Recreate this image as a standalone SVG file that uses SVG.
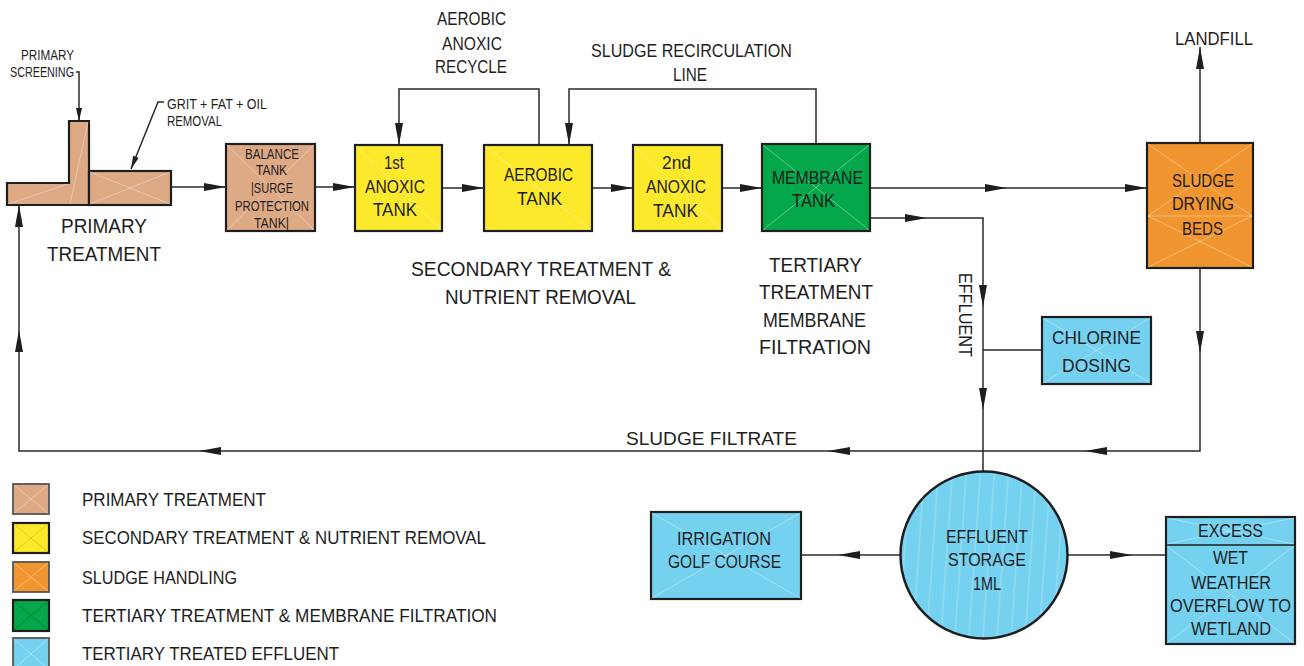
<svg xmlns="http://www.w3.org/2000/svg" xmlns:xlink="http://www.w3.org/1999/xlink" width="1304" height="666" viewBox="0 0 1304 666">
<style>
.box{stroke:#1e1e1e;stroke-width:2.2}
.tan{fill:#DEA985}.yel{fill:#FDE92C}.org{fill:#F0952F}.grn{fill:#04A84B}.blu{fill:#74D1EF}
.x{stroke:#ffffff;stroke-opacity:0.45;stroke-width:0.8;fill:none}
.ln{stroke:#2a2a2a;stroke-width:1.5;fill:none}
text{font-family:"Liberation Sans",Arial,sans-serif;fill:#1e1e1e;text-anchor:middle}
.s{font-size:14px}.m{font-size:18px}.l{font-size:21px}
.lg{text-anchor:start}
</style>
<defs>
<path id="ah" d="M0,0 L-22,-4 L-22,4 Z" fill="#1e1e1e"/>
<path id="ahs" d="M0,0 L-13,-3 L-13,3 Z" fill="#1e1e1e"/>
<pattern id="stripes" width="14" height="20" patternUnits="userSpaceOnUse" patternTransform="rotate(4)">
<rect width="14" height="20" fill="#74D1EF"/>
<line x1="3" y1="0" x2="3" y2="20" stroke="#ffffff" stroke-opacity="0.35" stroke-width="1"/>
</pattern>
</defs>
<rect width="1304" height="666" fill="#ffffff"/>

<!-- connectors -->
<g id="connectors">
<path class="ln" d="M76,72 H79 V121"/>
<use href="#ahs" transform="translate(79,121) rotate(90)"/>
<path class="ln" d="M164,102 H158 L131,169"/>
<use href="#ahs" transform="translate(131,169) rotate(112)"/>
<path class="ln" d="M171,187 H226"/>
<use href="#ah" transform="translate(226,187)"/>
<path class="ln" d="M315,187 H355"/>
<use href="#ah" transform="translate(355,187)"/>
<path class="ln" d="M442,188 H484"/>
<use href="#ah" transform="translate(484,188)"/>
<path class="ln" d="M583,188 H633"/>
<use href="#ah" transform="translate(633,188)"/>
<path class="ln" d="M722,188 H762"/>
<use href="#ah" transform="translate(762,188)"/>
<path class="ln" d="M539,145 V89 H399 V145"/>
<use href="#ah" transform="translate(399,145) rotate(90)"/>
<path class="ln" d="M816,145 V89 H569 V145"/>
<use href="#ah" transform="translate(569,145) rotate(90)"/>
<path class="ln" d="M870,188 H1147"/>
<use href="#ah" transform="translate(1007,188)"/>
<use href="#ah" transform="translate(1147,188)"/>
<path class="ln" d="M870,218 H983 V472"/>
<use href="#ah" transform="translate(927,218)"/>
<use href="#ah" transform="translate(983,307) rotate(90)"/>
<use href="#ah" transform="translate(983,410) rotate(90)"/>
<path class="ln" d="M983,350 H1042"/>
<path class="ln" d="M1200,143 V47"/>
<use href="#ah" transform="translate(1200,47) rotate(-90)"/>
<path class="ln" d="M1200,268 V451 H19 V205"/>
<use href="#ah" transform="translate(1200,353) rotate(90)"/>
<use href="#ah" transform="translate(1085,451) rotate(180)"/>
<use href="#ah" transform="translate(828,451) rotate(180)"/>
<use href="#ah" transform="translate(199,451) rotate(180)"/>
<use href="#ah" transform="translate(19,330) rotate(-90)"/>
<use href="#ah" transform="translate(19,205) rotate(-90)"/>
<path class="ln" d="M900,555 H801"/>
<use href="#ah" transform="translate(838,555) rotate(180)"/>
<path class="ln" d="M1068,555 H1166"/>
<use href="#ah" transform="translate(1132,555)"/>
</g>

<!-- nodes -->
<g id="primary-treatment">
<path class="box tan" d="M7,183 H69 V121 H89 V205 H7 Z"/>
<rect class="box tan" x="89" y="171" width="82" height="34"/>
<path class="x" d="M8,204 L68,184 M70,204 L88,122 M90,172 L170,204 M90,204 L170,172"/>
</g>
<g id="balance-tank">
<rect class="box tan" x="226" y="144" width="89" height="87"/>
<path class="x" d="M227,145 L314,230 M314,145 L227,230"/>
<text class="s" x="272" y="159" textLength="54" lengthAdjust="spacingAndGlyphs">BALANCE</text>
<text class="s" x="271.5" y="175" textLength="31" lengthAdjust="spacingAndGlyphs">TANK</text>
<text class="s" x="272" y="193" textLength="42" lengthAdjust="spacingAndGlyphs">|SURGE</text>
<text class="s" x="272" y="211" textLength="74" lengthAdjust="spacingAndGlyphs">PROTECTION</text>
<text class="s" x="271.5" y="228" textLength="35" lengthAdjust="spacingAndGlyphs">TANK|</text>
</g>
<g id="anoxic-1">
<rect class="box yel" x="355" y="145" width="87" height="86"/>
<path class="x" d="M356,146 L441,230"/>
<text class="m" x="394" y="168.5" textLength="20" lengthAdjust="spacingAndGlyphs">1st</text>
<text class="m" x="395" y="192.5" textLength="60" lengthAdjust="spacingAndGlyphs">ANOXIC</text>
<text class="m" x="395" y="215.5" textLength="44" lengthAdjust="spacingAndGlyphs">TANK</text>
</g>
<g id="aerobic-tank">
<rect class="box yel" x="484" y="145" width="108" height="86"/>
<path class="x" d="M485,146 L591,230"/>
<text class="m" x="538.5" y="180.5" textLength="69" lengthAdjust="spacingAndGlyphs">AEROBIC</text>
<text class="m" x="539.5" y="204.5" textLength="45" lengthAdjust="spacingAndGlyphs">TANK</text>
</g>
<g id="anoxic-2">
<rect class="box yel" x="633" y="145" width="89" height="86"/>
<path class="x" d="M634,146 L721,230"/>
<text class="m" x="676.5" y="168.5" textLength="29" lengthAdjust="spacingAndGlyphs">2nd</text>
<text class="m" x="676" y="192.5" textLength="60" lengthAdjust="spacingAndGlyphs">ANOXIC</text>
<text class="m" x="675.5" y="216.5" textLength="45" lengthAdjust="spacingAndGlyphs">TANK</text>
</g>
<g id="membrane-tank">
<rect class="box grn" x="762" y="144" width="108" height="87"/>
<path class="x" d="M763,145 L869,230 M869,145 L763,230"/>
<text class="m" x="817.5" y="183.5" textLength="91" lengthAdjust="spacingAndGlyphs">MEMBRANE</text>
<text class="m" x="813.5" y="206.5" textLength="43" lengthAdjust="spacingAndGlyphs">TANK</text>
</g>
<g id="sludge-drying-beds">
<rect class="box org" x="1147" y="143" width="106" height="125"/>
<path class="x" d="M1148,144 L1252,216 M1252,144 L1148,216 M1148,216 L1252,267 M1252,216 L1148,267 M1148,216 H1252"/>
<text class="m" x="1203" y="186.5" textLength="62" lengthAdjust="spacingAndGlyphs">SLUDGE</text>
<text class="m" x="1203" y="209.5" textLength="62" lengthAdjust="spacingAndGlyphs">DRYING</text>
<text class="m" x="1202.5" y="234.5" textLength="41" lengthAdjust="spacingAndGlyphs">BEDS</text>
</g>
<g id="chlorine-dosing">
<rect class="box blu" x="1042" y="317" width="109" height="67"/>
<path class="x" d="M1043,318 L1150,383 M1150,318 L1043,383"/>
<text class="m" x="1096.5" y="343.5" textLength="89" lengthAdjust="spacingAndGlyphs">CHLORINE</text>
<text class="m" x="1096.5" y="371.5" textLength="69" lengthAdjust="spacingAndGlyphs">DOSING</text>
</g>
<g id="effluent-storage">
<circle cx="984" cy="555" r="83.5" fill="url(#stripes)" stroke="#1e1e1e" stroke-width="2.5"/>
<text class="m" x="987" y="542.5" textLength="82" lengthAdjust="spacingAndGlyphs">EFFLUENT</text>
<text class="m" x="987" y="565.5" textLength="78" lengthAdjust="spacingAndGlyphs">STORAGE</text>
<text class="m" x="987" y="589.5" textLength="28" lengthAdjust="spacingAndGlyphs">1ML</text>
</g>
<g id="irrigation-golf-course">
<rect class="box blu" x="651" y="512" width="150" height="87"/>
<path class="x" d="M652,513 L800,598 M800,513 L652,598"/>
<text class="m" x="724" y="544.5" textLength="94" lengthAdjust="spacingAndGlyphs">IRRIGATION</text>
<text class="m" x="724.5" y="567.5" textLength="113" lengthAdjust="spacingAndGlyphs">GOLF COURSE</text>
</g>
<g id="excess-wet-weather">
<rect class="box blu" x="1166" y="517" width="129" height="127"/>
<line x1="1166" y1="545" x2="1295" y2="545" stroke="#1e1e1e" stroke-width="1.5"/>
<path class="x" d="M1167,518 L1294,544 M1294,518 L1167,544 M1167,546 L1294,643 M1294,546 L1167,643"/>
<text class="m" x="1230.5" y="536.5" textLength="65" lengthAdjust="spacingAndGlyphs">EXCESS</text>
<text class="m" x="1230.5" y="563.5" textLength="35" lengthAdjust="spacingAndGlyphs">WET</text>
<text class="m" x="1231" y="588.5" textLength="80" lengthAdjust="spacingAndGlyphs">WEATHER</text>
<text class="m" x="1230.5" y="611.5" textLength="121" lengthAdjust="spacingAndGlyphs">OVERFLOW TO</text>
<text class="m" x="1231" y="634.5" textLength="80" lengthAdjust="spacingAndGlyphs">WETLAND</text>
</g>

<!-- labels -->
<g id="labels">
<text class="s" x="47.5" y="60" textLength="53" lengthAdjust="spacingAndGlyphs">PRIMARY</text>
<text class="s" x="42" y="77" textLength="64" lengthAdjust="spacingAndGlyphs">SCREENING</text>
<text class="s lg" x="167" y="109" textLength="100" lengthAdjust="spacingAndGlyphs">GRIT + FAT + OIL</text>
<text class="s lg" x="167" y="125.5" textLength="55" lengthAdjust="spacingAndGlyphs">REMOVAL</text>
<text class="l" x="104" y="232.6" textLength="86" lengthAdjust="spacingAndGlyphs">PRIMARY</text>
<text class="l" x="104" y="260.6" textLength="114" lengthAdjust="spacingAndGlyphs">TREATMENT</text>
<text class="m" x="471.5" y="24.5" textLength="69" lengthAdjust="spacingAndGlyphs">AEROBIC</text>
<text class="m" x="472" y="49.5" textLength="60" lengthAdjust="spacingAndGlyphs">ANOXIC</text>
<text class="m" x="471" y="72.5" textLength="72" lengthAdjust="spacingAndGlyphs">RECYCLE</text>
<text class="m" x="691.5" y="56.5" textLength="201" lengthAdjust="spacingAndGlyphs">SLUDGE RECIRCULATION</text>
<text class="m" x="690" y="80.5" textLength="34" lengthAdjust="spacingAndGlyphs">LINE</text>
<text class="l" x="541" y="275.6" textLength="260" lengthAdjust="spacingAndGlyphs">SECONDARY TREATMENT &amp;</text>
<text class="l" x="540.5" y="303.6" textLength="191" lengthAdjust="spacingAndGlyphs">NUTRIENT REMOVAL</text>
<text class="l" x="815.5" y="271.6" textLength="93" lengthAdjust="spacingAndGlyphs">TERTIARY</text>
<text class="l" x="816" y="298.6" textLength="114" lengthAdjust="spacingAndGlyphs">TREATMENT</text>
<text class="l" x="814.5" y="326.6" textLength="103" lengthAdjust="spacingAndGlyphs">MEMBRANE</text>
<text class="l" x="815" y="353.6" textLength="112" lengthAdjust="spacingAndGlyphs">FILTRATION</text>
<text class="m" x="1214" y="44.5" textLength="78" lengthAdjust="spacingAndGlyphs">LANDFILL</text>
<text style="font-size:19px" x="711.5" y="444.8" textLength="171" lengthAdjust="spacingAndGlyphs">SLUDGE FILTRATE</text>
<text class="m" transform="translate(965,315) rotate(90)" x="0" y="6.5" textLength="84" lengthAdjust="spacingAndGlyphs">EFFLUENT</text>
</g>

<!-- legend -->
<g id="legend">
<rect class="box tan" x="13" y="484" width="36" height="30" style="stroke:#555;stroke-width:1.8"/>
<path class="x" d="M14,485 L48,513 M48,485 L14,513"/>
<rect class="box yel" x="13" y="523" width="36" height="30"/>
<path class="x" d="M14,524 L48,552 M48,524 L14,552" style="stroke:#c8b800;stroke-opacity:0.7"/>
<rect class="box org" x="13" y="562" width="36" height="30" style="stroke:#555;stroke-width:1.8"/>
<path class="x" d="M14,563 L48,591 M48,563 L14,591"/>
<rect class="box grn" x="13" y="600" width="36" height="31"/>
<path class="x" d="M14,601 L48,630 M48,601 L14,630" style="stroke:#006b2c;stroke-opacity:0.8"/>
<rect class="box blu" x="13" y="638" width="36" height="32" style="stroke:#555;stroke-width:1.8"/>
<path class="x" d="M14,639 L48,669 M48,639 L14,669"/>
<text class="m lg" x="82" y="506" textLength="184" lengthAdjust="spacingAndGlyphs">PRIMARY TREATMENT</text>
<text class="m lg" x="82" y="544" textLength="404" lengthAdjust="spacingAndGlyphs">SECONDARY TREATMENT &amp; NUTRIENT REMOVAL</text>
<text class="m lg" x="82" y="583.5" textLength="155" lengthAdjust="spacingAndGlyphs">SLUDGE HANDLING</text>
<text class="m lg" x="82" y="622" textLength="415" lengthAdjust="spacingAndGlyphs">TERTIARY TREATMENT &amp; MEMBRANE FILTRATION</text>
<text class="m lg" x="82" y="660" textLength="257" lengthAdjust="spacingAndGlyphs">TERTIARY TREATED EFFLUENT</text>
</g>
</svg>
